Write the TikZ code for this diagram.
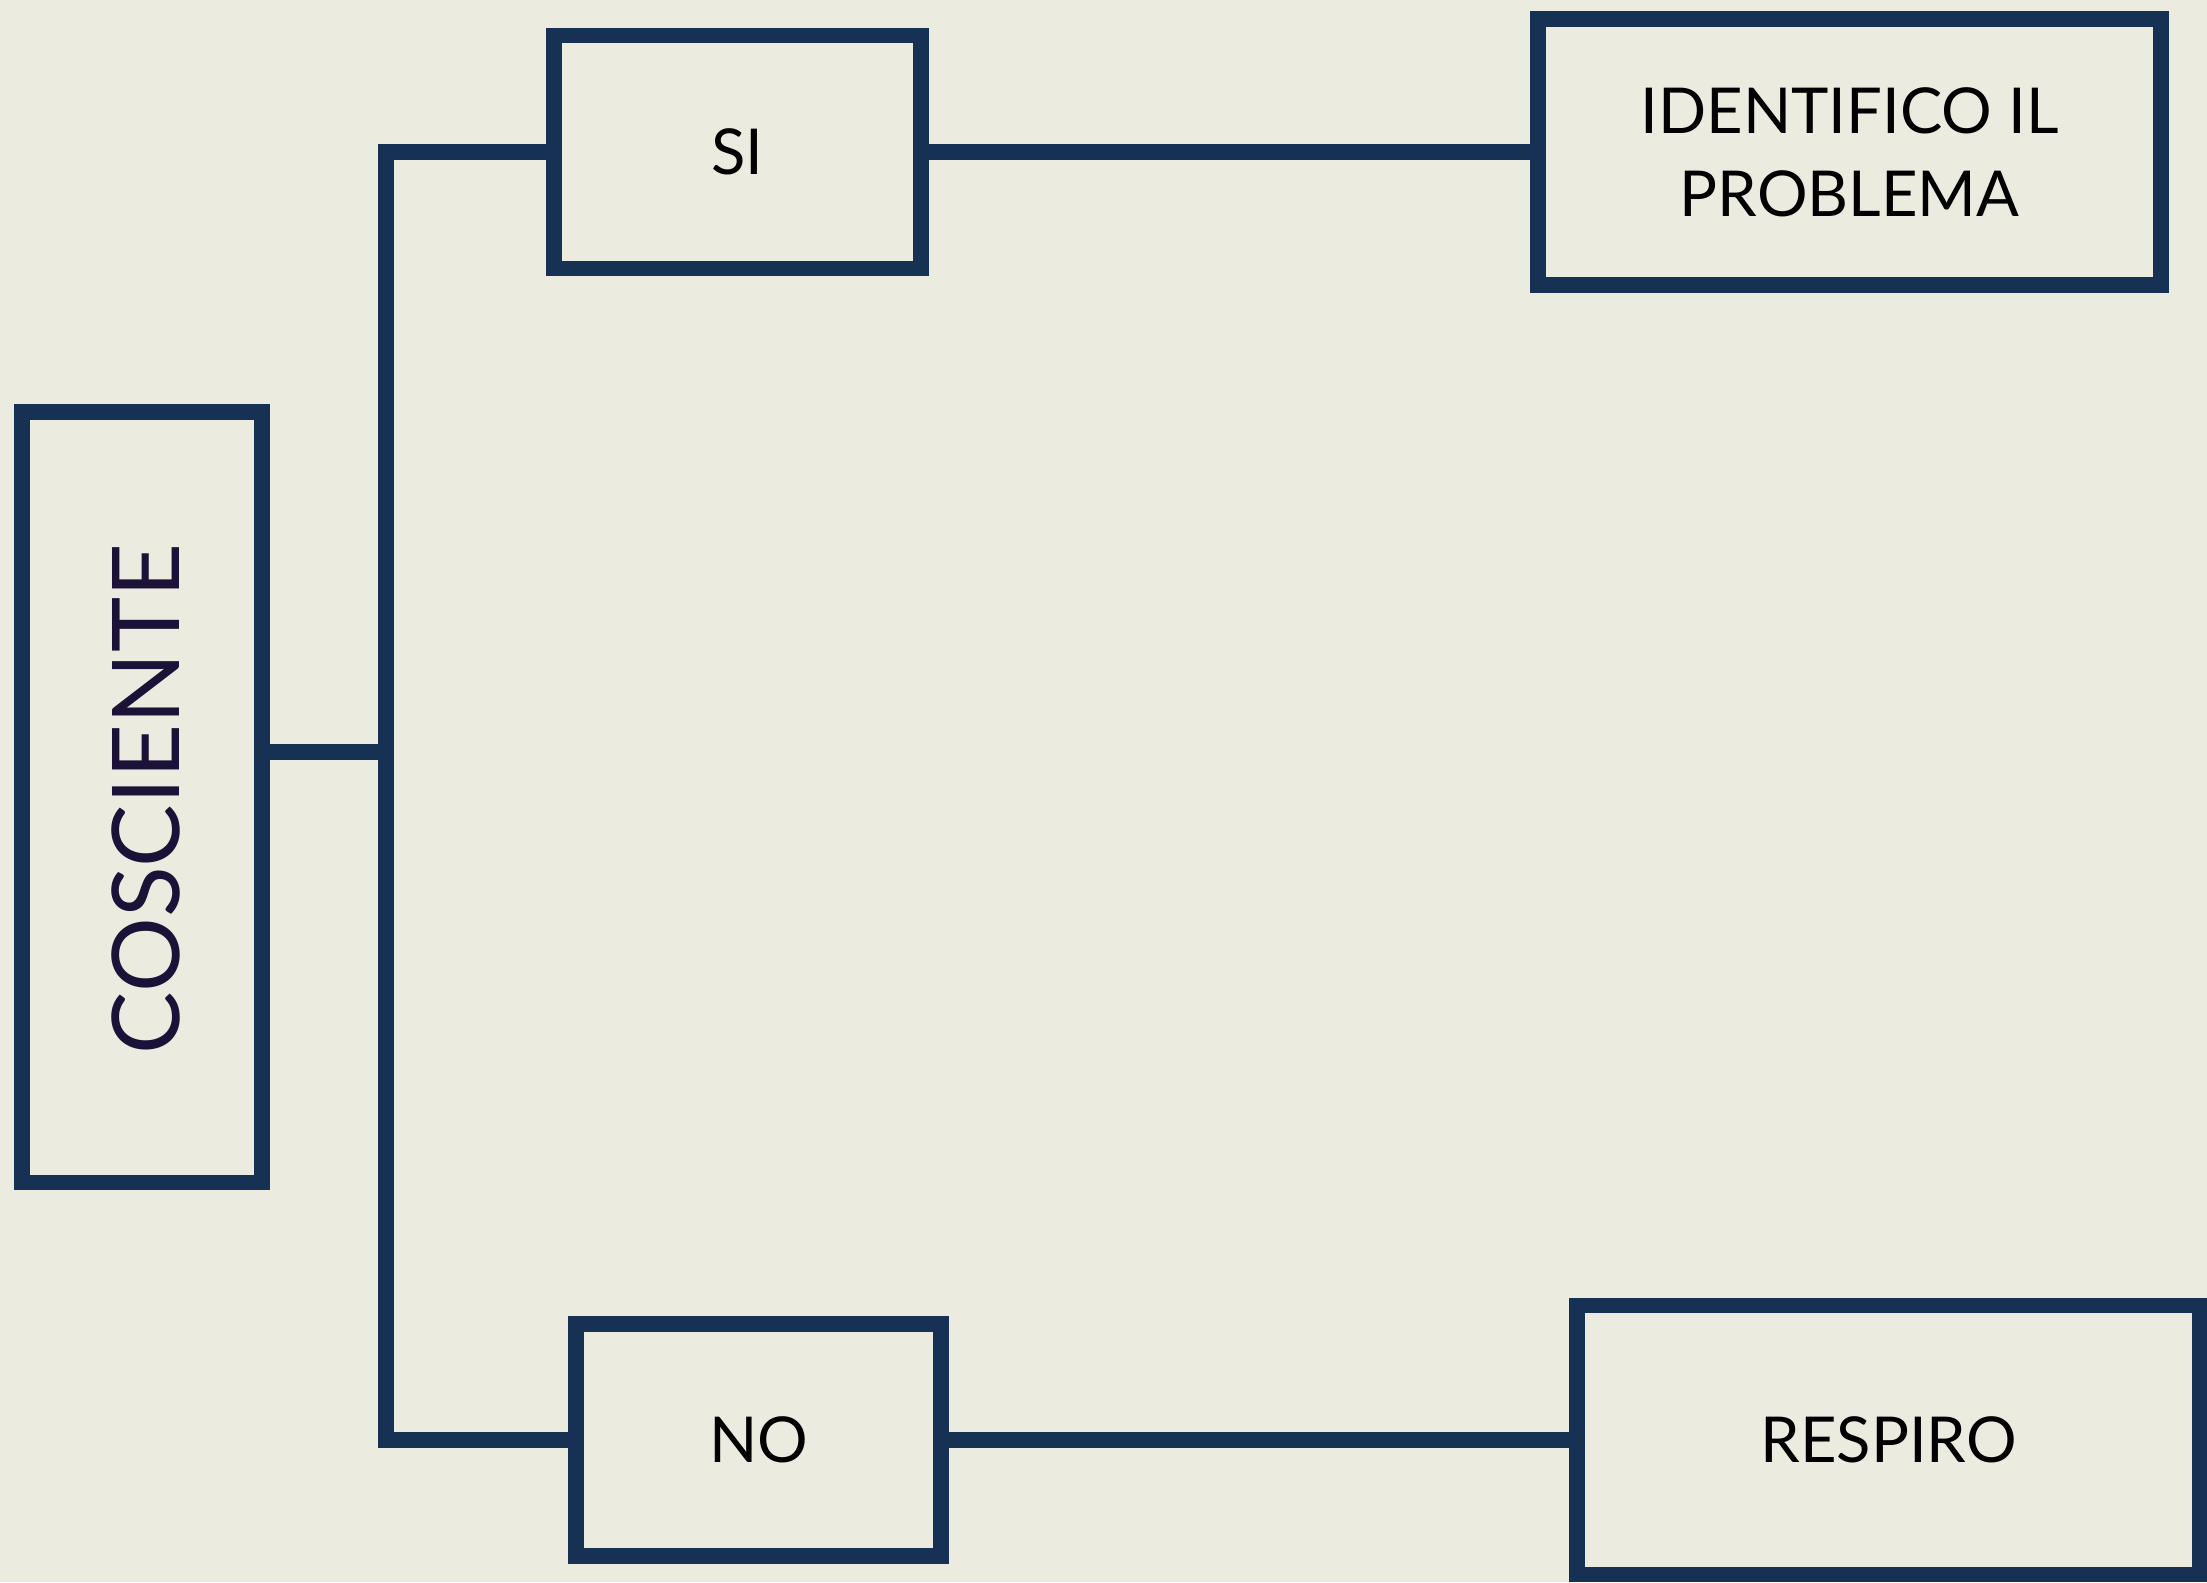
\documentclass[tikz,border=0pt]{standalone}
\usepackage{fontspec}
\setmainfont{Lato}
\usetikzlibrary{positioning}

\definecolor{paper}{HTML}{ECEBDF}
\definecolor{ink}{HTML}{163154}
\definecolor{plum}{HTML}{1C1238}

\begin{document}
\begin{tikzpicture}[x=0.01cm, y=-0.01cm,
        box/.style={draw=ink, line width=4.4pt, inner sep=0pt, align=center,
            font=\fontsize{18}{23.6}\selectfont},
        link/.style={draw=ink, line width=4.4pt, line cap=rect}]
        % Paper
        \fill[paper] (0,0) rectangle (2207,1582);
        \useasboundingbox (0,0) rectangle (2207,1582);

        % Boxes
        \node[box, minimum width=2.4cm, minimum height=7.7cm] (cosc) at (142,797) {};
        \node[plum, rotate=90, font=\fontsize{26.6}{30}\selectfont] (cosctext) at (146,799) {COSCIENTE};
        \node[box, minimum width=3.67cm, minimum height=2.33cm] (si) at (737.5,152) {SI};
        \node[box, minimum width=6.23cm, minimum height=2.66cm] (ident) at (1849.5,152) {IDENTIFICO IL\\PROBLEMA};
        \node[box, minimum width=3.65cm, minimum height=2.32cm] (no) at (758.5,1440) {NO};
        \node[box, minimum width=6.23cm, minimum height=2.69cm] (resp) at (1888.5,1440) {RESPIRO};

        % Connectors
        \coordinate (fork) at (386,752);
        \draw[link] (fork -| cosc.east) -- (fork);
        \draw[link] (si.west) -- (si.west -| fork) -- (no.west -| fork) -- (no.west);
        \draw[link] (si.east) -- (ident.west);
        \draw[link] (no.east) -- (resp.west);
    \end{tikzpicture}
\end{document}
